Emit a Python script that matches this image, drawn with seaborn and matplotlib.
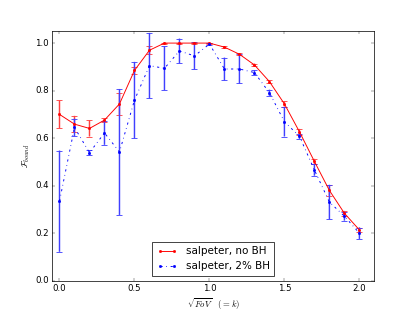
"""
Bound fraction vs sqrt(FoV) for the salpeter runs, with and without BH.

Produces:
  out.png
"""

import matplotlib

matplotlib.use("Agg")
import matplotlib.pyplot as plt
import numpy as np
import seaborn as sns

plt.style.use("classic")

# ---------------------------------------------------------------------------
# Data
# ---------------------------------------------------------------------------

k_values = [0.0, 0.1, 0.2, 0.3, 0.4, 0.5, 0.6, 0.7, 0.8, 0.9, 1.0,
            1.1, 1.2, 1.3, 1.4, 1.5, 1.6, 1.7, 1.8, 1.9, 2.0]

bound_no_bh = [0.700, 0.659, 0.641, 0.676, 0.744, 0.885, 0.970, 1.000, 1.000, 1.000, 1.000,
               0.983, 0.953, 0.908, 0.838, 0.744, 0.627, 0.502, 0.380, 0.284, 0.214]
err_no_bh = [0.059, 0.035, 0.034, 0.008, 0.046, 0.014, 0.017, 0.002, 0.002, 0.002, 0.002,
             0.004, 0.004, 0.006, 0.006, 0.011, 0.012, 0.011, 0.022, 0.010, 0.010]

bound_2pct_bh = [0.335, 0.645, 0.539, 0.622, 0.542, 0.760, 0.905, 0.894, 0.967, 0.946, 0.996,
                 0.891, 0.891, 0.876, 0.791, 0.669, 0.608, 0.466, 0.331, 0.272, 0.200]
err_2pct_bh = [0.213, 0.037, 0.011, 0.050, 0.265, 0.161, 0.138, 0.092, 0.052, 0.057, 0.004,
               0.048, 0.061, 0.010, 0.013, 0.062, 0.011, 0.024, 0.073, 0.019, 0.024]

LABEL_NO_BH = "salpeter, no BH"
LABEL_BH = "salpeter, 2% BH"

ERR_RED = "#ff4040"
ERR_BLUE = "#4040ff"


# ---------------------------------------------------------------------------
# Figure
# ---------------------------------------------------------------------------

def main() -> None:
    fig, ax = plt.subplots(figsize=(8, 6), dpi=52)

    k = np.array(k_values)

    for y, err, col in [(bound_no_bh, err_no_bh, ERR_RED),
                        (bound_2pct_bh, err_2pct_bh, ERR_BLUE)]:
        _, caps, bars = ax.errorbar(k, y, yerr=err, fmt="none", ecolor=col,
                                    capsize=4, elinewidth=2.0, capthick=1.2)
        for artist in list(caps) + list(bars):
            artist.set_snap(False)

    sns.lineplot(x=k, y=bound_no_bh, ax=ax, color="r", linestyle="-",
                 marker=".", markersize=6, mec="r", mew=1, lw=1.3,
                 label=LABEL_NO_BH)
    sns.lineplot(x=k, y=bound_2pct_bh, ax=ax, color="b", linestyle="-.",
                 marker=".", markersize=6, mec="b", mew=1, lw=1.3,
                 label=LABEL_BH)

    ax.set_xlim(-0.05, 2.1)
    ax.set_ylim(0.0, 1.05)
    ax.set_xticks([0.0, 0.5, 1.0, 1.5, 2.0])
    ax.set_yticks([0.0, 0.2, 0.4, 0.6, 0.8, 1.0])
    ax.set_xlabel(r"$\sqrt{FoV}\quad(=k)$")
    ax.set_ylabel(r"$\mathcal{F}_{bound}$")
    ax.legend(loc="lower center", fontsize="large")

    fig.subplots_adjust(left=0.125, right=0.9, bottom=0.1, top=0.9)
    fig.savefig("out.png", dpi=52)
    plt.close(fig)


if __name__ == "__main__":
    main()
